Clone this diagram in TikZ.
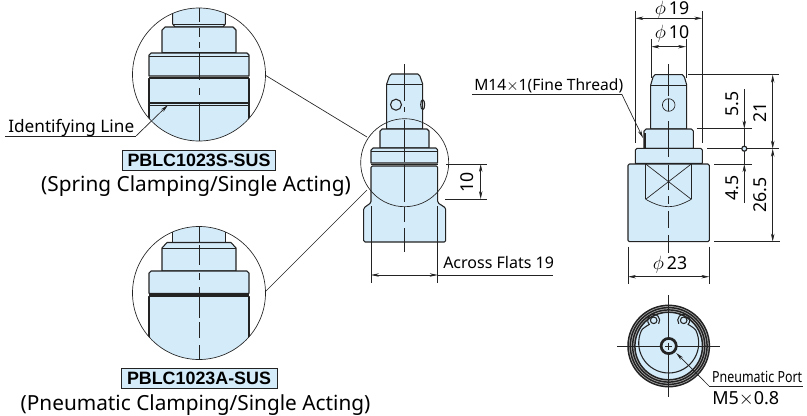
\documentclass[tikz,border=0pt]{standalone}
\usepackage{fontspec,amsmath}
\setmainfont{Noto Sans}
\newfontfamily\boxfont{Liberation Sans}
\usetikzlibrary{arrows.meta}
\definecolor{partblue}{RGB}{212,235,249}
\definecolor{inkgray}{RGB}{35,35,35}
\tikzset{
  part/.style={draw=inkgray,line width=.8pt,fill=partblue,line join=round},
  edge/.style={draw=inkgray,line width=.8pt},
  thin line/.style={draw=inkgray,line width=.5pt},
  cline/.style={draw=inkgray,line width=.6pt},
  leader/.style={thin line,-{Stealth[length=6pt,width=2.6pt]}},
  dim/.style={thin line,{Stealth[length=6pt,width=2.6pt]}-{Stealth[length=6pt,width=2.6pt]}},
  label/.style={inner sep=0,font=\fontsize{13.3}{15}\selectfont},
  text label/.style={inner sep=0,font=\fontsize{12}{14}\selectfont},
  caption/.style={inner sep=0,font=\fontsize{15.6}{18}\selectfont},
  modelbox/.style={draw=inkgray,line width=.5pt,fill=partblue,minimum height=15.5pt,inner sep=0,font=\boxfont\bfseries\fontsize{13.4}{15}\selectfont},
}
\begin{document}
\begin{tikzpicture}[x=.75pt,y=-.75pt]
\useasboundingbox (0,0) rectangle (807,415);

% upper detail
\begin{scope}
\clip (199,74.5) circle (66.5);
\draw[part] (172.7,0) -- (172.7,24) -- (175,27) -- (223,27) -- (225.3,24) -- (225.3,0) -- cycle;
\draw[thin line] (172.7,24) -- (225.3,24);
\draw[part] (162,52.7) -- (162,30) -- (165,27) -- (233,27) -- (236,30) -- (236,52.7) -- cycle;
\draw[part] (149,76) -- (149,55) -- (151,53) -- (247,53) -- (249,55) -- (249,76) -- cycle;
\draw[part] (149,78.5) -- (149,160) -- (249,160) -- (249,78.5) -- cycle;
\draw[edge] (149,77.2) -- (249,77.2) (149,103) -- (249,103) (149,105.5) -- (249,105.5);
\draw[thin line] (149,56) -- (249,56);
\foreach \a/\b in {8/22,28/37,42/48,53/80,88/95,102/141}
{
\draw[cline] (199,\a) -- (199,\b);
}
\end{scope}
\draw[thin line] (199,74.5) circle (66.5);

% lower detail
\begin{scope}
\clip (199,293) circle (66.5);
\draw[part] (172.7,210) -- (172.7,242.3) -- (225.3,242.3) -- (225.3,210) -- cycle;
\draw[part] (162,271) -- (162,248) -- (167,242.5) -- (231,242.5) -- (236,248) -- (236,271) -- cycle;
\draw[part] (149,293.3) -- (149,273) -- (151,271) -- (247,271) -- (249,273) -- (249,293.3) -- cycle;
\draw[part] (149,296.7) -- (149,380) -- (249,380) -- (249,296.7) -- cycle;
\draw[edge] (149,295) -- (249,295);
\draw[thin line] (162,248) -- (236,248);
\foreach \a/\b in {227/242,245/265,273/280,287/318,322/338,345/359}
{
\draw[cline] (199,\a) -- (199,\b);
}
\end{scope}
\draw[thin line] (199,293) circle (66.5);

% identifying line
\node[inner sep=0,font=\fontsize{12.9}{15}\selectfont,anchor=base west] (idline) at (8,132) {Identifying Line};
\coordinate (idend) at (5,136);
\coordinate (idknee) at (136,136);
\coordinate (idtip) at (168,105);
\draw[thin line] (idend) -- (idknee);
\draw[leader] (idknee) -- (idtip);

% captions
\node[modelbox,minimum width=114.5pt] (boxS) at (199,160.3) {PBLC1023S-SUS};
\node[caption,anchor=base] (capS) at (196,191.5) {(Spring Clamping/Single Acting)};
\node[modelbox,minimum width=117pt] (boxA) at (199,378.3) {PBLC1023A-SUS};
\node[caption,anchor=base] (capA) at (195.5,410) {(Pneumatic Clamping/Single Acting)};

% middle view
\draw[part] (386.7,129) -- (386.7,84) -- (389.5,76) -- (391.5,74) -- (417.9,74) -- (419.9,76) -- (422.7,84) -- (422.7,129) -- cycle;
\draw[thin line] (386.7,84) -- (422.7,84);
\draw[edge] (396,104.7) circle (5.5);
\draw[edge] (422.7,104.7) ellipse (2 and 5);
\draw[part] (380,148) -- (380,131) -- (382,129) -- (427,129) -- (429,131) -- (429,148) -- cycle;
\draw[part] (371,163) -- (371,150) -- (373,148) -- (436,148) -- (437.7,150) -- (437.7,163) -- cycle;
\draw[part,rounded corners=1pt] (371,166) -- (371,202.7) -- (363.7,208) -- (363.7,242) -- (445.7,242) -- (445.7,208) -- (437.7,202.7) -- (437.7,166) -- cycle;
\draw[edge] (371,164.5) -- (437.7,164.5);
\draw[thin line] (371,151) -- (437.7,151);
\foreach \a/\b in {64/101,107/112,120/162,165/202,207/222,228/252}
{
\draw[cline] (404.7,\a) -- (404.7,\b);
}
\draw[thin line] (404.7,162.7) circle (44);

% leaders from the circle
\coordinate (circS) at (367,137);
\coordinate (circA) at (367,190);
\coordinate (detS) at (265,75);
\coordinate (detA) at (265,292);
\draw[thin line] (circS) -- (detS);
\draw[thin line] (circA) -- (detA);

% middle view dimensions
\coordinate (ten1) at (446,164);
\coordinate (ten2) at (445,199);
\draw[thin line] (ten1) -- (487,164) (ten2) -- (487,199);
\draw[dim] (480.7,164) -- (480.7,199);
\node[label,rotate=90] (dimten) at (466.7,182.5) {10};
\draw[thin line] (371,206) -- (371,282.7) (437.7,206) -- (437.7,282.7);
\draw[dim] (371,275) -- (437.7,275);
\draw[thin line] (437.7,275) -- (553,275);
\node[text label,anchor=base west] (flats) at (443,268) {Across Flats 19};

% right view
\draw[part] (650.7,129) -- (650.7,85) -- (653,77) -- (655,74.7) -- (682.4,74.7) -- (684.4,77) -- (686.7,85) -- (686.7,129) -- cycle;
\draw[thin line] (650.7,85) -- (686.7,85);
\draw[thin line,fill=partblue] (668.7,105) circle (6.3);
\draw[edge] (650.7,103) -- (650.7,107) (686.7,103) -- (686.7,107);
\draw[part] (644,148.3) -- (644,131) -- (646,129) -- (691.3,129) -- (693.3,131) -- (693.3,148.3) -- cycle;
\draw[draw=inkgray,line width=1.6pt] (645.2,133) -- (645.2,148);
\draw[part] (635.3,163.3) -- (635.3,150) -- (637,148.3) -- (700.6,148.3) -- (702.3,150) -- (702.3,163.3) -- cycle;
\draw[part,rounded corners=1pt] (628,164) -- (628,241.7) -- (709.3,241.7) -- (709.3,164) -- cycle;
\draw[thin line] (645.7,164) -- (645.7,199.3) (691.3,164) -- (691.3,199.3);
\draw[thin line] (645.7,199.3) .. controls (655,204.5) and (662,206.7) .. (668.5,206.7) .. controls (675,206.7) and (682,204.5) .. (691.3,199.3);
\draw[thin line] (645.7,164) -- (691.3,199.3) (691.3,164) -- (645.7,199.3);
\foreach \a/\b in {64/96,99/111,121/157,165/190,196/204,211/228,235/252.7}
{
\draw[cline] (668.7,\a) -- (668.7,\b);
}

% right view dimensions
\draw[thin line] (635.3,11) -- (635.3,143) (702.3,11) -- (702.3,143);
\draw[dim] (635.3,18.3) -- (702.3,18.3);
\node[label] (phinineteen) at (672,9.3) {$\phi$\,19};
\draw[thin line] (651.3,39) -- (651.3,78) (686,39) -- (686,78);
\draw[dim] (651.3,46.7) -- (686,46.7);
\node[label] (phiten) at (672,34) {$\phi$\,10};
\draw[thin line] (688,74.7) -- (779,74.7) (696.7,128.7) -- (751.7,128.7) (707,148.7) -- (779,148.7) (714,164) -- (751.7,164) (714,241.7) -- (780,241.7);
\draw[dim] (772.7,74.7) -- (772.7,148.7);
\draw[dim] (772.7,148.7) -- (772.7,241.7);
\node[label,rotate=90] (dimtwentyone) at (760,112.7) {21};
\node[label,rotate=90] (dimtwentysix) at (760,195) {26.5};
\coordinate (fivetop) at (744.3,89);
\coordinate (fourbot) at (744.3,203);
\coordinate (dotc) at (744.3,148.7);
\draw[leader] (fivetop) -- (744.3,128.7);
\draw[leader] (fourbot) -- (744.3,164);
\draw[thin line] (744.3,128.7) -- (dotc) -- (744.3,164);
\draw[draw=inkgray,line width=.9pt,fill=partblue] (dotc) circle (2.5);
\node[label,rotate=90] (dimfive) at (732.7,104) {5.5};
\node[label,rotate=90] (dimfour) at (732.3,188) {4.5};
\node[inner sep=0,font=\fontsize{11.7}{14}\selectfont,anchor=base west] (thread) at (474,90) {M14$\times$1(Fine Thread)};
\coordinate (threadend) at (472,94);
\coordinate (threadknee) at (621.7,94);
\coordinate (threadtip) at (643,138);
\draw[thin line] (threadend) -- (threadknee);
\draw[leader] (threadknee) -- (threadtip);
\draw[thin line] (628,246.7) -- (628,284) (709.3,246.7) -- (709.3,284);
\draw[dim] (628,276.7) -- (709.3,276.7);
\node[label] (phitwentythree) at (670,265) {$\phi$\,23};

% bottom view
\begin{scope}[shift={(668.7,346)}]
\fill[inkgray!35] (0,0) circle (40.5);
\fill[partblue] (0,0) circle (33.5);
\foreach \r in {40.7,38.4,36.1,33.8}
{
\draw[draw=inkgray,line width=1.1pt] (0,0) circle (\r);
}
\foreach \s in {1,-1}
{
\begin{scope}[xscale=\s]
\draw[edge] (0,27) arc[start angle=90,end angle=205,radius=30]
  .. controls (-26,-17.5) and (-23,-19.5) .. (-19.4,-21.6)
  arc[start angle=137,end angle=395,radius=6];
\draw[edge] (-15,-25.7) circle (3.3);
\end{scope}
}
\draw[thin line] (-51.7,0) -- (51.7,0) (0,-51) -- (0,50.7);
\draw[draw=inkgray,line width=2pt,fill=partblue] (0,0) circle (7.6);
\draw[thin line] (-3.5,0) -- (3.5,0) (0,-3.5) -- (0,3.5);
\coordinate (porttip) at (7.5,7);
\end{scope}
\coordinate (portknee) at (709,386);
\coordinate (portend) at (803,386);
\draw[leader] (portknee) -- (porttip);
\draw[thin line] (portknee) -- (portend);
\node[inner sep=0,anchor=base west,font=\fontsize{11.5}{14}\selectfont,xscale=.81] (port) at (712,382) {Pneumatic Port};
\node[inner sep=0,anchor=base west,font=\fontsize{13.5}{15}\selectfont] (portsize) at (712,404) {M5$\times$0.8};
\end{tikzpicture}
\end{document}
